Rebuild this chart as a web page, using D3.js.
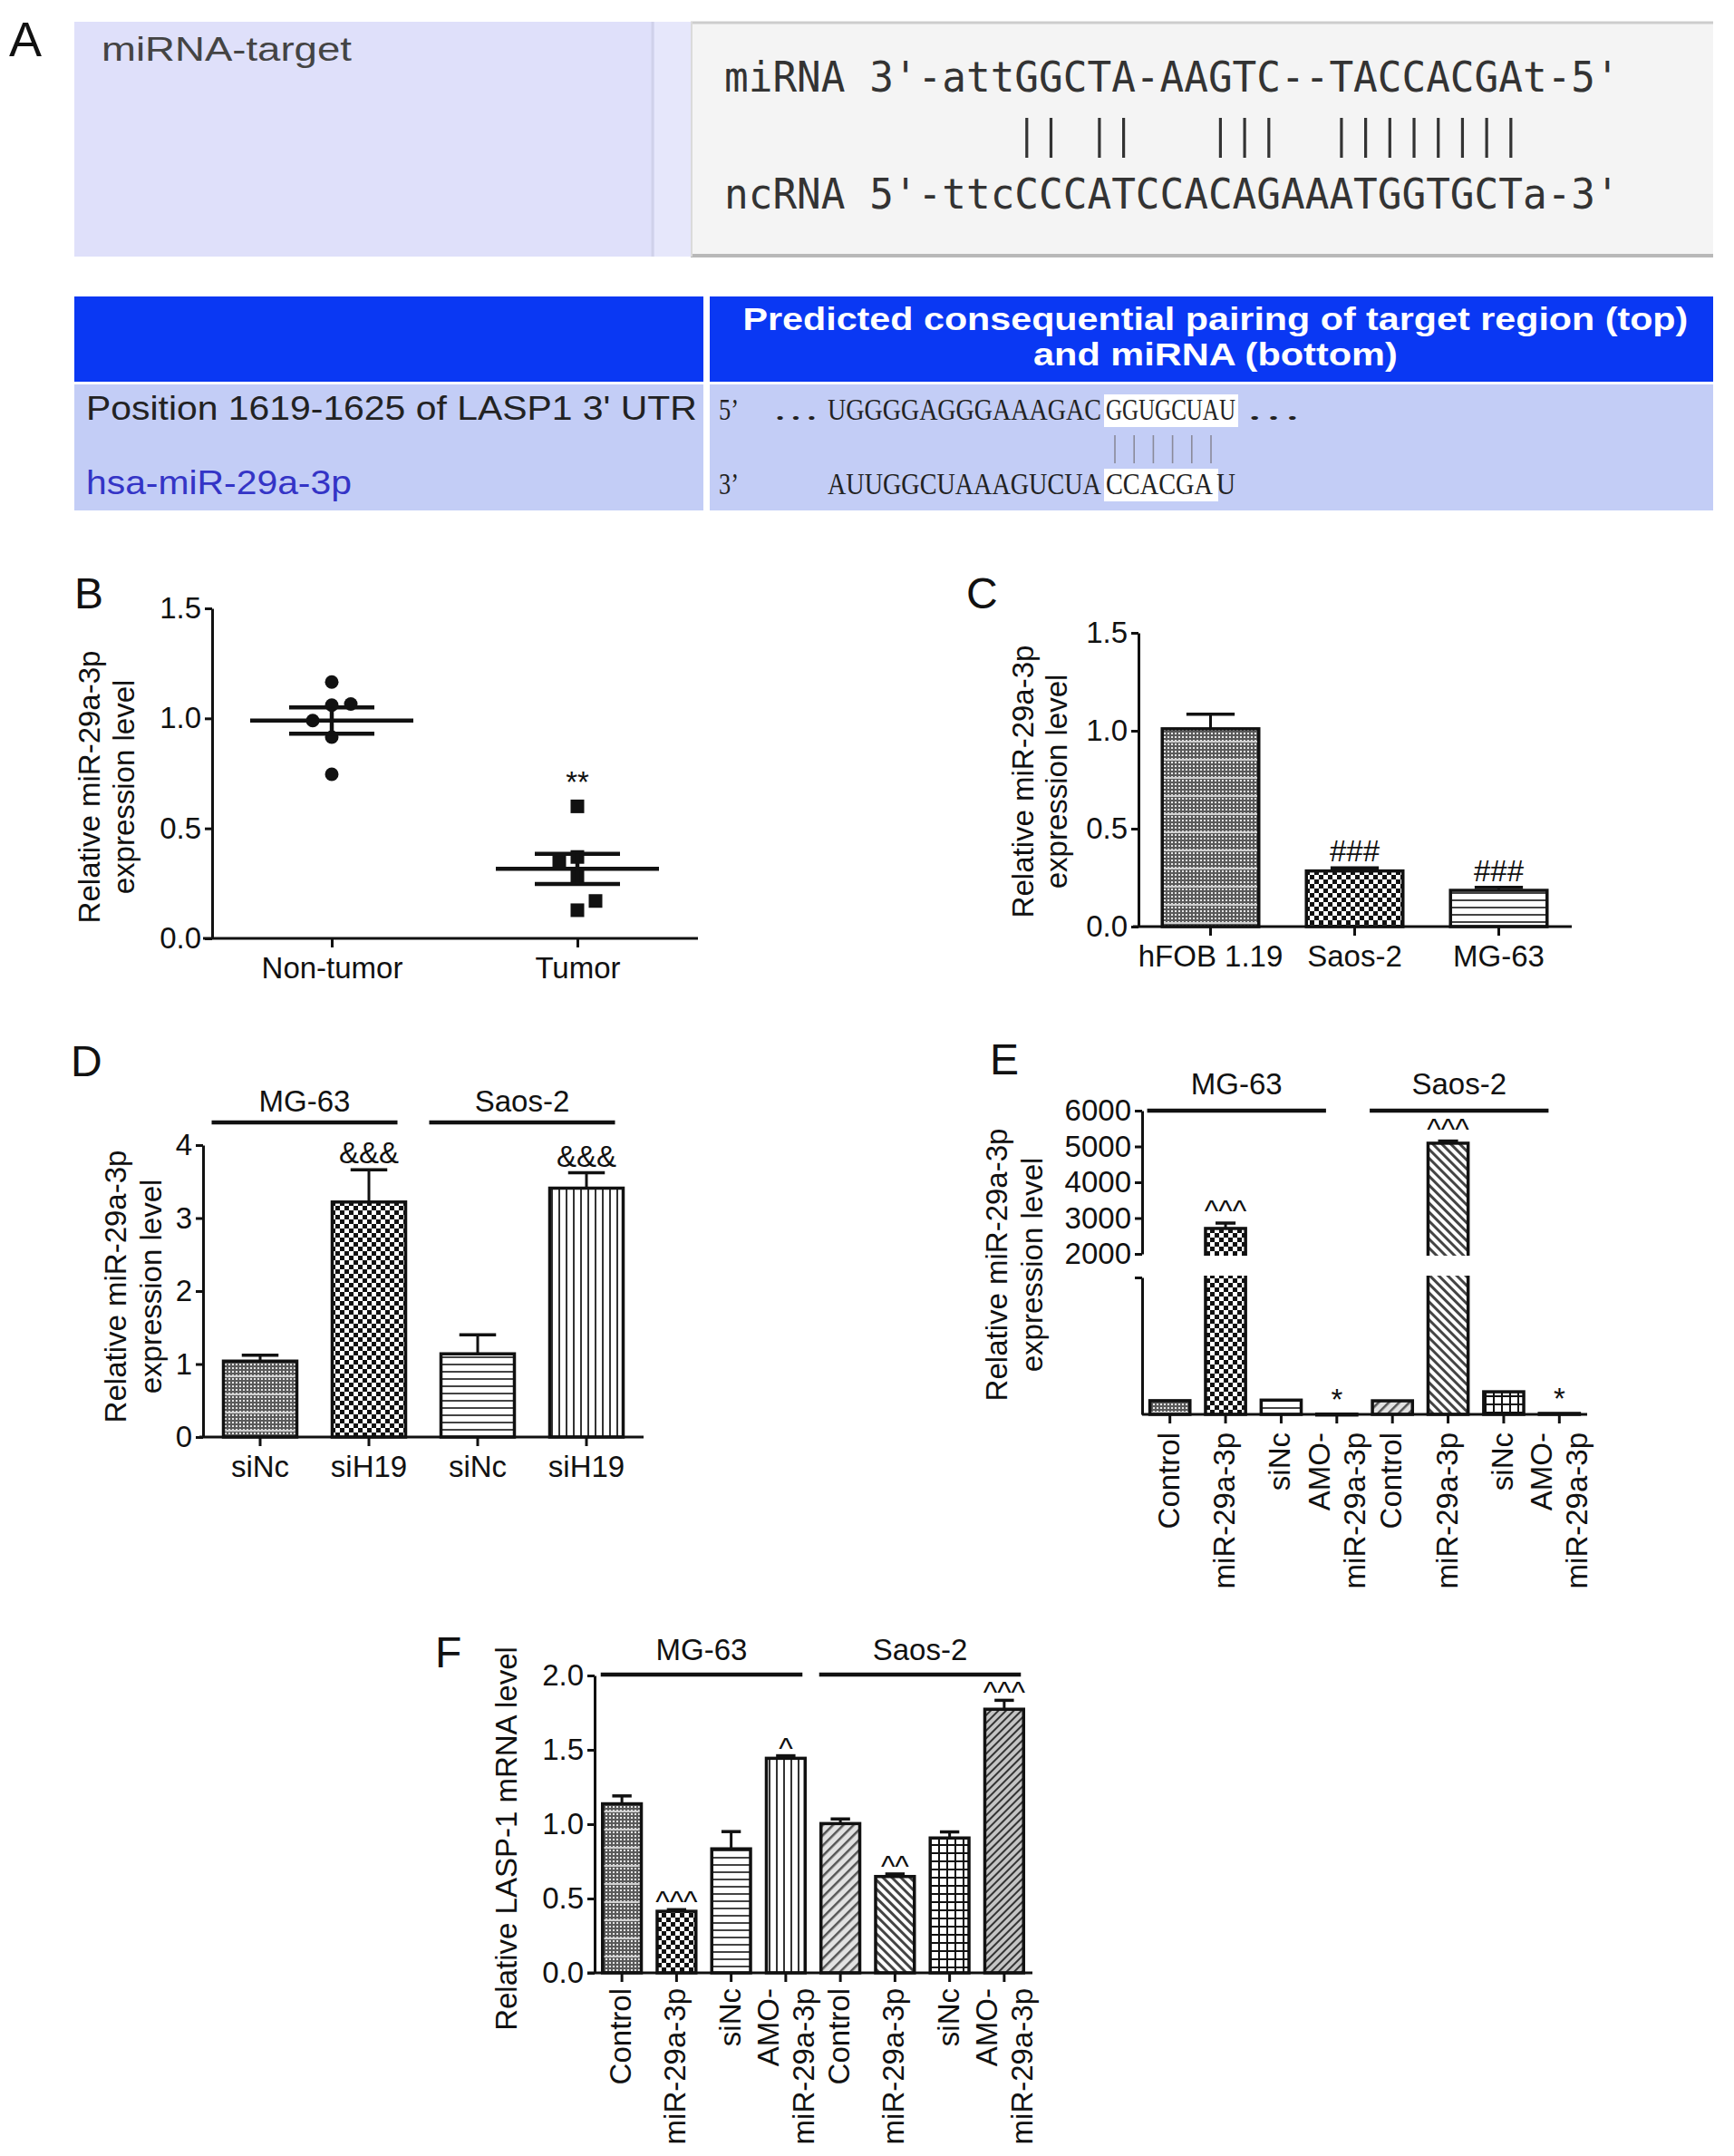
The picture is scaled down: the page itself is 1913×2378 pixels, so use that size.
<!DOCTYPE html>
<html>
<head>
<meta charset="utf-8">
<script src="https://cdn.jsdelivr.net/npm/d3@7"></script>
<style>
  body { margin: 0; background: #fff; }
</style>
</head>
<body>
<svg id="fig" width="1913" height="2378"></svg>
<script>
// ---------- data ----------
// panel A
var miRNASeq = "miRNA 3'-attGGCTA-AAGTC--TACCACGAt-5'";
var ncRNASeq = "ncRNA 5'-ttcCCCATCCACAGAAATGGTGCTa-3'";
var pairIdx = [12, 13, 15, 16, 20, 21, 22, 25, 26, 27, 28, 29, 30, 31, 32];
var headerLines = ["Predicted consequential pairing of target region (top)", "and miRNA (bottom)"];
var utrLabel = "Position 1619-1625 of LASP1 3' UTR";
var mirLabel = "hsa-miR-29a-3p";
var utrSeq = ["UGGGGAGGGAAAGAC", "GGUGCUAU"];
var mirSeq = ["AUUGGCUAAAGUCUA", "CCACGA", "U"];
var seedPairs = [0, 1, 2, 3, 4, 5];

// panel B
var catsB = ["Non-tumor", "Tumor"];
var nonTumor = [1.165, 1.065, 1.06, 0.99, 0.915, 0.746];
var tumor = [0.60, 0.37, 0.347, 0.28, 0.17, 0.128];
var ticksB = [0, 0.5, 1.0, 1.5];

// panel C
var catsC = ["hFOB 1.19", "Saos-2", "MG-63"];
var valC = [1.01, 0.284, 0.185];
var semC = [0.074, 0.016, 0.015];
var marksC = ["", "###", "###"];

// panel D
var catsD = ["siNc", "siH19", "siNc", "siH19"];
var groupsD = ["MG-63", "Saos-2"];
var valD = [1.04, 3.22, 1.14, 3.41];
var semD = [0.08, 0.44, 0.26, 0.21];
var marksD = ["", "&&&", "", "&&&"];
var ticksD = [0, 1, 2, 3, 4];

// panels E and F
var catsEF = ["Control", "miR-29a-3p", "siNc", "AMO-\nmiR-29a-3p",
              "Control", "miR-29a-3p", "siNc", "AMO-\nmiR-29a-3p"];
var groupsEF = ["MG-63", "Saos-2"];
var valE = [1.0, 2710, 1.04, 0.02, 0.99, 5090, 1.65, 0.07];
var semE = [0, 150, 0, 0, 0, 60, 0, 0];
var marksE = ["", "^^^", "", "*", "", "^^^", "", "*"];
var ticksEUpper = [2000, 3000, 4000, 5000, 6000];

var valF = [1.137, 0.414, 0.834, 1.443, 1.004, 0.648, 0.907, 1.773];
var semF = [0.053, 0.011, 0.116, 0.017, 0.031, 0.017, 0.041, 0.06];
var marksF = ["", "^^^", "", "^", "", "^^", "", "^^^"];
var ticksF = [0, 0.5, 1.0, 1.5, 2.0];

// ---------- setup ----------
var FONT = "'Liberation Sans', Arial, Helvetica, sans-serif";
var SERIF = "'Liberation Serif', 'Times New Roman', serif";
var MONO = "'DejaVu Sans Mono', monospace";
var INK = "#111";
var FS = 33;

var svg = d3.select("#fig").attr("font-family", FONT);
var defs = svg.append("defs");

function pat(id, w, h, draw, tr) {
	var p = defs.append("pattern").attr("id", id)
		.attr("patternUnits", "userSpaceOnUse")
		.attr("width", w).attr("height", h);
	if (tr) p.attr("patternTransform", tr);
	draw(p, w, h);
}
pat("pDots", 4, 20, function(p) {
	p.append("rect").attr("width", 4).attr("height", 20).attr("fill", "#5a5a5a");
	for (var k = 0; k < 5; k++)
		p.append("rect").attr("x", 0).attr("y", k * 4).attr("width", 2).attr("height", 2).attr("fill", "#e6e6e6");
	p.append("rect").attr("y", 17).attr("width", 4).attr("height", 2).attr("fill", "#cfcfcf");
});
pat("pCheck", 10, 10, function(p) {
	p.append("rect").attr("width", 10).attr("height", 10).attr("fill", "#fff");
	p.append("rect").attr("width", 5).attr("height", 5).attr("fill", INK);
	p.append("rect").attr("x", 5).attr("y", 5).attr("width", 5).attr("height", 5).attr("fill", INK);
});
pat("pH", 8, 8, function(p) {
	p.append("rect").attr("width", 8).attr("height", 8).attr("fill", "#fff");
	p.append("rect").attr("width", 8).attr("height", 2).attr("fill", "#444");
});
pat("pV", 8, 8, function(p) {
	p.append("rect").attr("width", 8).attr("height", 8).attr("fill", "#fff");
	p.append("rect").attr("width", 2).attr("height", 8).attr("fill", "#333");
});
pat("pDiagUp", 8, 8, function(p) {
	p.append("rect").attr("width", 8).attr("height", 8).attr("fill", "#e2e2e2");
	p.append("rect").attr("width", 2.5).attr("height", 8).attr("fill", "#555");
}, "rotate(45)");
pat("pDiagDn", 7, 7, function(p) {
	p.append("rect").attr("width", 7).attr("height", 7).attr("fill", "#fff");
	p.append("rect").attr("width", 3).attr("height", 7).attr("fill", "#444");
}, "rotate(-45)");
pat("pGrid", 9, 9, function(p) {
	p.append("rect").attr("width", 9).attr("height", 9).attr("fill", "#fff");
	p.append("rect").attr("width", 9).attr("height", 2).attr("fill", INK);
	p.append("rect").attr("width", 2).attr("height", 9).attr("fill", INK);
});
pat("pDiagDense", 6, 6, function(p) {
	p.append("rect").attr("width", 6).attr("height", 6).attr("fill", "#c4c4c4");
	p.append("rect").attr("width", 2).attr("height", 6).attr("fill", "#333");
}, "rotate(45)");

// ---------- helpers ----------
function styleAxis(g) {
	g.attr("font-family", FONT).attr("font-size", FS);
	g.select(".domain").attr("stroke", INK).attr("stroke-width", 3);
	g.selectAll(".tick line").attr("stroke", INK).attr("stroke-width", 3);
	g.selectAll(".tick text").attr("fill", INK);
	return g;
}
function yAxis(g, scale, ticks, fmt, x) {
	var a = d3.axisLeft(scale).tickValues(ticks).tickFormat(fmt)
		.tickSize(8).tickPadding(4).tickSizeOuter(0);
	return styleAxis(g.append("g").attr("transform", "translate(" + x + ",0)").call(a));
}
function xAxis(g, scale, y, x0, x1, withLabels) {
	var a = d3.axisBottom(scale).tickSize(10).tickPadding(11).tickSizeOuter(0);
	if (!withLabels) a.tickFormat("");
	var ax = styleAxis(g.append("g").attr("transform", "translate(0," + y + ")").call(a));
	ax.select(".domain").remove();
	g.append("line").attr("x1", x0).attr("x2", x1).attr("y1", y).attr("y2", y)
		.attr("stroke", INK).attr("stroke-width", 3);
	return ax;
}
function yTitle(g, lines, xs, cy) {
	lines.forEach(function(t, i) {
		g.append("text").attr("transform", "translate(" + xs[i] + "," + cy + ") rotate(-90)")
			.attr("text-anchor", "middle").attr("font-size", FS).attr("fill", INK).text(t);
	});
}
function panelLabel(t, x, y, size) {
	svg.append("text").attr("x", x).attr("y", y).attr("font-size", size || 48).attr("fill", INK).text(t);
}
// squeeze/stretch a text horizontally so that it spans exactly `width`
function fitText(g, t, x, y, width, attrs) {
	var el = g.append("text").text(t);
	for (var k in attrs) el.attr(k, attrs[k]);
	var w = el.node().getComputedTextLength() || width;
	el.attr("transform", "translate(" + x + "," + y + ") scale(" + (width / w) + ",1)");
	return el;
}
function groupBars(g, x, keys, vals, sems, fills, yTop, y0) {
	var bw = x.bandwidth();
	keys.forEach(function(k, i) {
		g.append("rect").attr("x", x(k)).attr("y", yTop(vals[i]))
			.attr("width", bw).attr("height", Math.max(1, y0 - yTop(vals[i])))
			.attr("fill", "url(#" + fills[i] + ")")
			.attr("stroke", INK).attr("stroke-width", 3.5);
		if (sems[i] > 0) {
			var cx = x(k) + bw / 2, yt = yTop(vals[i] + sems[i]);
			g.append("line").attr("x1", cx).attr("x2", cx).attr("y1", yTop(vals[i])).attr("y2", yt)
				.attr("stroke", INK).attr("stroke-width", 3);
			g.append("line").attr("x1", cx - bw / 4).attr("x2", cx + bw / 4).attr("y1", yt).attr("y2", yt)
				.attr("stroke", INK).attr("stroke-width", 3.5);
		}
	});
}
function marks(g, x, keys, vals, sems, labels, yTop, dy) {
	keys.forEach(function(k, i) {
		if (!labels[i]) return;
		g.append("text").attr("x", x(k) + x.bandwidth() / 2).attr("y", yTop(vals[i] + sems[i]) + dy(labels[i]))
			.attr("text-anchor", "middle").attr("font-size", FS).attr("fill", INK).text(labels[i]);
	});
}
function groupHeader(g, x, keys, names, lineY, padL, padR, dyLabel) {
	names.forEach(function(n, gi) {
		var first = keys[gi * keys.length / names.length];
		var last = keys[(gi + 1) * keys.length / names.length - 1];
		var x0 = x(first) + padL, x1 = x(last) + x.bandwidth() + padR;
		g.append("line").attr("x1", x0).attr("x2", x1).attr("y1", lineY).attr("y2", lineY)
			.attr("stroke", INK).attr("stroke-width", 4.5);
		g.append("text").attr("x", (x0 + x1) / 2).attr("y", lineY + dyLabel)
			.attr("text-anchor", "middle").attr("font-size", FS).attr("fill", INK).text(n);
	});
}
function rotLabels(g, x, keys, labels, y0) {
	keys.forEach(function(k, i) {
		var lines = labels[i].split("\n");
		var c = x(k) + x.bandwidth() / 2;
		var offs = lines.length === 1 ? [10] : [-8, 31];
		lines.forEach(function(t, j) {
			g.append("text").attr("transform", "translate(" + (c + offs[j]) + "," + y0 + ") rotate(-90)")
				.attr("text-anchor", "end").attr("font-size", FS).attr("fill", INK).text(t);
		});
	});
}
var caretDy = function(t) { return t.charAt(0) === "^" ? 3 : (t === "*" ? -4 : -7); };
var fmt1 = d3.format(".1f");

// ---------- panel A ----------
var A = svg.append("g");
panelLabel("A", 10, 62, 54);
A.append("rect").attr("x", 82).attr("y", 24).attr("width", 680).attr("height", 259).attr("fill", "#dfe0fa");
A.append("rect").attr("x", 722).attr("y", 24).attr("width", 40).attr("height", 259).attr("fill", "#e6e7fb");
A.append("line").attr("x1", 720).attr("x2", 720).attr("y1", 24).attr("y2", 283).attr("stroke", "#d0d1ea").attr("stroke-width", 3);
A.append("rect").attr("x", 762).attr("y", 24).attr("width", 1128).attr("height", 259).attr("fill", "#f4f4f4");
A.append("line").attr("x1", 762).attr("x2", 1890).attr("y1", 25).attr("y2", 25).attr("stroke", "#cdcdcd").attr("stroke-width", 3);
A.append("line").attr("x1", 762).attr("x2", 1890).attr("y1", 282).attr("y2", 282).attr("stroke", "#b8b8b8").attr("stroke-width", 4);
A.append("line").attr("x1", 763).attr("x2", 763).attr("y1", 24).attr("y2", 283).attr("stroke", "#dadada").attr("stroke-width", 2);
fitText(A, "miRNA-target", 112, 67, 276, {"font-size": 37, "fill": "#444"});

var xMono = d3.scaleLinear().domain([0, miRNASeq.length]).range([799, 1787]);
[[miRNASeq, 101], [ncRNASeq, 230]].forEach(function(d) {
	fitText(A, d[0], xMono(0), d[1], xMono(d[0].length) - xMono(0),
		{"font-family": MONO, "font-size": 46, "fill": "#333"}).style("white-space", "pre");
});
A.selectAll("line.pair").data(pairIdx).enter().append("line").attr("class", "pair")
	.attr("x1", function(i) { return xMono(i + 0.5); }).attr("x2", function(i) { return xMono(i + 0.5); })
	.attr("y1", 130).attr("y2", 174).attr("stroke", "#333").attr("stroke-width", 3.2);

// table
var BLUE = "#0a38f3", BODY = "#c3cdf6";
A.append("rect").attr("x", 82).attr("y", 327).attr("width", 694).attr("height", 94).attr("fill", BLUE);
A.append("rect").attr("x", 783).attr("y", 327).attr("width", 1107).attr("height", 94).attr("fill", BLUE);
A.append("rect").attr("x", 82).attr("y", 424).attr("width", 694).attr("height", 139).attr("fill", BODY);
A.append("rect").attr("x", 783).attr("y", 424).attr("width", 1107).attr("height", 139).attr("fill", BODY);
[[headerLines[0], 364, 1043], [headerLines[1], 403, 402]].forEach(function(d) {
	fitText(A, d[0], 1341 - d[2] / 2, d[1], d[2],
		{"font-size": 35, "font-weight": "bold", "fill": "#fff"});
});
fitText(A, utrLabel, 95, 463, 674, {"font-size": 37, "fill": "#222"});
fitText(A, mirLabel, 95, 545, 293, {"font-size": 37, "fill": "#3434c6"});
// highlighted seed
A.append("rect").attr("x", 1218).attr("y", 435).attr("width", 148).attr("height", 36).attr("fill", "#fff");
A.append("rect").attr("x", 1218).attr("y", 517).attr("width", 126).attr("height", 36).attr("fill", "#fff");
var serifAttrs = {"font-family": SERIF, "font-size": 34, "fill": "#222"};
fitText(A, "5\u2019", 793, 463, 22, serifAttrs);
fitText(A, "3\u2019", 793, 545, 22, serifAttrs);
fitText(A, "\u2026", 852, 463, 52, serifAttrs);
fitText(A, utrSeq[0], 913, 463, 302, serifAttrs);
fitText(A, utrSeq[1], 1220, 463, 143, serifAttrs);
fitText(A, "\u2026", 1374, 463, 62, serifAttrs);
fitText(A, mirSeq[0], 913, 545, 302, serifAttrs);
fitText(A, mirSeq[1], 1220, 545, 118, serifAttrs);
fitText(A, mirSeq[2], 1342, 545, 21, serifAttrs);
var xSeed = d3.scaleLinear().domain([0, seedPairs.length - 1]).range([1230, 1336]);
A.selectAll("line.seed").data(seedPairs).enter().append("line").attr("class", "seed")
	.attr("x1", xSeed).attr("x2", xSeed).attr("y1", 480).attr("y2", 511)
	.attr("stroke", "#8a8a9a").attr("stroke-width", 1.6);

// ---------- panel B ----------
var B = svg.append("g");
panelLabel("B", 82, 671);
var yB = d3.scaleLinear().domain([0, 1.5]).range([1035, 671]);
var xB = d3.scalePoint().domain(catsB).range([366, 637]);
var jitNT = [0, 1, 0, -1, 0, 0], jitT = [0, 0, -1, 0, 1, 0];
nonTumor.forEach(function(v, i) {
	B.append("circle").attr("cx", xB(catsB[0]) + jitNT[i] * 21).attr("cy", yB(v)).attr("r", 7.5).attr("fill", INK);
});
tumor.forEach(function(v, i) {
	B.append("rect").attr("x", xB(catsB[1]) + jitT[i] * 20 - 7.5).attr("y", yB(v) - 7.5)
		.attr("width", 15).attr("height", 15).attr("fill", INK);
});
[nonTumor, tumor].forEach(function(vals, i) {
	var m = d3.mean(vals), se = d3.deviation(vals) / Math.sqrt(vals.length), cx = xB(catsB[i]);
	B.append("line").attr("x1", cx - 90).attr("x2", cx + 90).attr("y1", yB(m)).attr("y2", yB(m)).attr("stroke", INK).attr("stroke-width", 4.5);
	[m - se, m + se].forEach(function(v) {
		B.append("line").attr("x1", cx - 47).attr("x2", cx + 47).attr("y1", yB(v)).attr("y2", yB(v)).attr("stroke", INK).attr("stroke-width", 4.5);
	});
	B.append("line").attr("x1", cx).attr("x2", cx).attr("y1", yB(m - se)).attr("y2", yB(m + se)).attr("stroke", INK).attr("stroke-width", 4.5);
});
B.append("text").attr("x", xB(catsB[1])).attr("y", yB(d3.max(tumor)) - 15).attr("text-anchor", "middle")
	.attr("font-size", FS).attr("fill", INK).text("**");
yAxis(B, yB, ticksB, fmt1, 234);
xAxis(B, xB, 1035, 224, 770, true);
yTitle(B, ["Relative miR-29a-3p", "expression level"], [110, 148], 868);

// ---------- panel C ----------
var C = svg.append("g");
panelLabel("C", 1066, 671);
var yC = d3.scaleLinear().domain([0, 1.5]).range([1022, 698]);
var xC = d3.scaleBand().domain(catsC).range([1256, 1733]).paddingInner(0.33).paddingOuter(0.165);
groupBars(C, xC, catsC, valC, semC, ["pDots", "pCheck", "pH"], yC, yC(0));
marks(C, xC, catsC, valC, semC, marksC, yC, caretDy);
yAxis(C, yC, ticksB, fmt1, 1256);
xAxis(C, xC, 1022, 1250, 1734, true);
yTitle(C, ["Relative miR-29a-3p", "expression level"], [1140, 1177], 862);

// ---------- panel D ----------
var D = svg.append("g");
panelLabel("D", 78, 1187);
var keysD = d3.range(catsD.length);
var yD = d3.scaleLinear().domain([0, 4]).range([1585, 1263]);
var xD = d3.scaleBand().domain(keysD).range([227, 707]).paddingInner(0.325).paddingOuter(0.1625);
groupBars(D, xD, keysD, valD, semD, ["pDots", "pCheck", "pH", "pV"], yD, yD(0));
marks(D, xD, keysD, valD, semD, marksD, yD, caretDy);
yAxis(D, yD, ticksD, d3.format("d"), 224);
xAxis(D, xD, 1585, 220, 710, true).selectAll(".tick text").text(function(k) { return catsD[k]; });
groupHeader(D, xD, keysD, groupsD, 1238, -13, -9, -12);
yTitle(D, ["Relative miR-29a-3p", "expression level"], [139, 178], 1419);

// ---------- panel E ----------
var E = svg.append("g");
panelLabel("E", 1092, 1185);
var keysE = d3.range(catsEF.length);
var yEu = d3.scaleLinear().domain([2000, 6000]).range([1383, 1225]);
var yEl = d3.scaleLinear().domain([0, 10]).range([1560, 1409]);
var yE = function(v) { return v > 10 ? yEu(Math.max(v, 2000)) : yEl(v); };
var xE = d3.scaleBand().domain(keysE).range([1260, 1751]).paddingInner(0.28).paddingOuter(0.14);
var fillsEF = ["pDots", "pCheck", "pH", "pV", "pDiagUp", "pDiagDn", "pGrid", "pDiagDense"];
groupBars(E, xE, keysE, valE, semE, fillsEF, yE, yEl(0));
// axis break gap through tall bars
keysE.forEach(function(k, i) {
	if (valE[i] > 10)
		E.append("rect").attr("x", xE(k) - 4).attr("y", yEu(2000) + 2).attr("width", xE.bandwidth() + 8)
			.attr("height", yEl(10) - yEu(2000) - 4).attr("fill", "#fff");
});
marks(E, xE, keysE, valE, semE, marksE, yE, function(t) { return t === "*" ? -5 : -2; });
yAxis(E, yEu, ticksEUpper, d3.format("d"), 1260);
yAxis(E, yEl, [10], "", 1260);
xAxis(E, xE, 1560, 1260, 1751, false);
groupHeader(E, xE, keysE, groupsEF, 1225, -3, -34, -18);
rotLabels(E, xE, keysE, catsEF, 1580);
yTitle(E, ["Relative miR-29a-3p", "expression level"], [1111, 1150], 1395);

// ---------- panel F ----------
var F = svg.append("g");
panelLabel("F", 480, 1839);
var yF = d3.scaleLinear().domain([0, 2]).range([2176, 1848]);
var xF = d3.scaleBand().domain(keysE).range([656, 1138]).paddingInner(0.29).paddingOuter(0.145);
groupBars(F, xF, keysE, valF, semF, fillsEF, yF, yF(0));
marks(F, xF, keysE, valF, semF, marksF, yF, function() { return 3; });
yAxis(F, yF, ticksF, fmt1, 656);
xAxis(F, xF, 2176, 648, 1139, false);
groupHeader(F, xF, keysE, groupsEF, 1847, -2, -3, -16);
rotLabels(F, xF, keysE, catsEF, 2193);
yTitle(F, ["Relative LASP-1 mRNA level"], [570], 2028);
</script>
</body>
</html>
